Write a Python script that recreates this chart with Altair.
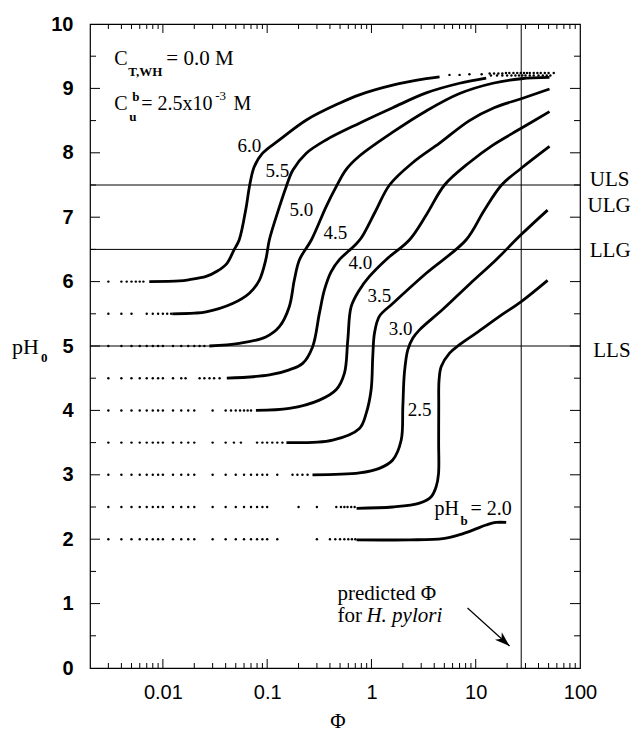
import altair as alt
import pandas as pd

# ---------------- data ----------------
# solid parts of the curves  (Phi, pH0), one pair of arrays per pHb
PHI_60 = [0.0074, 0.0144, 0.018, 0.026, 0.033, 0.041, 0.048, 0.054, 0.063, 0.0675, 0.075, 0.09, 0.131, 0.238, 0.493, 0.767, 1.6, 3.35, 4.5]
PH_60 = [6.0, 6.01, 6.03, 6.08, 6.16, 6.28, 6.49, 6.65, 7.16, 7.47, 7.78, 7.99, 8.2, 8.51, 8.77, 8.9, 9.05, 9.15, 9.18]

PHI_55 = [0.0123, 0.02, 0.026, 0.0466, 0.0675, 0.084, 0.097, 0.105, 0.131, 0.152, 0.176, 0.236, 0.367, 0.767, 1.6, 3.35, 7.0, 12.6]
PH_55 = [5.5, 5.51, 5.53, 5.66, 5.82, 6.02, 6.34, 6.65, 7.16, 7.47, 7.73, 7.99, 8.2, 8.46, 8.70, 8.93, 9.08, 9.16]

PHI_50 = [0.0279, 0.054, 0.097, 0.131, 0.163, 0.182, 0.204, 0.266, 0.367, 0.458, 0.571, 0.767, 1.6, 3.35, 7.0, 14.6, 27.3, 51.0]
PH_50 = [5.0, 5.04, 5.14, 5.30, 5.61, 6.02, 6.34, 6.65, 7.16, 7.47, 7.74, 7.95, 8.32, 8.65, 8.92, 9.08, 9.15, 9.17]

PHI_45 = [0.041, 0.105, 0.163, 0.219, 0.273, 0.317, 0.354, 0.41, 0.493, 0.69, 0.8, 1.1, 1.49, 2.5, 4.5, 8.7, 15.0, 27.3, 51.0]
PH_45 = [4.5, 4.55, 4.63, 4.73, 4.99, 5.51, 5.87, 6.15, 6.34, 6.56, 6.68, 7.1, 7.5, 7.85, 8.15, 8.5, 8.7, 8.84, 8.99]

PHI_40 = [0.078, 0.163, 0.317, 0.458, 0.551, 0.593, 0.639, 0.767, 0.957, 1.38, 2.32, 3.4, 5.02, 8.7, 14.6, 27.3, 51.0]
PH_40 = [4.0, 4.03, 4.16, 4.32, 4.58, 5.09, 5.61, 5.87, 6.08, 6.34, 6.65, 7.05, 7.5, 7.85, 8.12, 8.38, 8.64]

PHI_35 = [0.153, 0.425, 0.767, 0.889, 0.993, 1.03, 1.07, 1.19, 1.6, 3.35, 8.11, 12.0, 17.7, 27.3, 51.0]
PH_35 = [3.5, 3.54, 3.72, 3.95, 4.32, 4.84, 5.20, 5.46, 5.66, 6.13, 6.65, 7.1, 7.5, 7.76, 8.10]

PHI_30 = [0.272, 0.767, 1.19, 1.6, 1.93, 2.0, 2.07, 2.23, 2.49, 2.89, 4.84, 8.71, 15.7, 27.3, 48.9]
PH_30 = [3.0, 3.03, 3.10, 3.23, 3.54, 4.06, 4.58, 4.94, 5.12, 5.25, 5.57, 5.96, 6.34, 6.73, 7.11]

PHI_25 = [0.72, 1.6, 2.89, 3.74, 4.18, 4.40, 4.41, 4.42, 4.45, 4.67, 5.61, 7.0, 10.1, 16.9, 27.3, 48.9]
PH_25 = [2.48, 2.50, 2.56, 2.66, 2.82, 3.02, 3.5, 4.06, 4.47, 4.68, 4.89, 5.02, 5.20, 5.46, 5.69, 6.02]

PHI_20 = [0.72, 2.32, 4.84, 7.0, 9.38, 12.6, 15.7, 19.6]
PH_20 = [1.99, 1.99, 2.01, 2.07, 2.14, 2.22, 2.26, 2.26]

# dotted (isolated) points at low Phi, one row per pHb
DOT_60 = [0.003, 0.004, 0.0045, 0.005, 0.0055, 0.006, 0.0065]
DOT_55 = [0.003, 0.004, 0.005, 0.007, 0.008, 0.009, 0.010, 0.011, 0.012]
DOT_50 = [0.003, 0.004, 0.005, 0.006, 0.007, 0.008, 0.009, 0.010, 0.0125, 0.015, 0.0175, 0.020, 0.0225, 0.025]
DOT_45 = [0.003, 0.004, 0.005, 0.006, 0.007, 0.008, 0.009, 0.010, 0.0125, 0.015, 0.0165, 0.0225, 0.025, 0.028, 0.031, 0.035]
DOT_40 = [0.003, 0.004, 0.005, 0.006, 0.007, 0.008, 0.009, 0.010, 0.0125, 0.015, 0.0175, 0.020, 0.030, 0.040, 0.045, 0.050, 0.055, 0.060, 0.065, 0.070]
DOT_35 = [0.003, 0.004, 0.005, 0.006, 0.007, 0.008, 0.009, 0.010, 0.0125, 0.015, 0.0175, 0.020, 0.030, 0.040, 0.048, 0.056, 0.080, 0.090, 0.100, 0.112, 0.125, 0.140]
DOT_30 = [0.003, 0.004, 0.005, 0.006, 0.007, 0.008, 0.009, 0.010, 0.0125, 0.015, 0.0175, 0.020, 0.030, 0.040, 0.050, 0.060, 0.070, 0.080, 0.090, 0.100, 0.125, 0.175, 0.195, 0.218, 0.244]
DOT_25 = [0.003, 0.004, 0.005, 0.006, 0.007, 0.008, 0.009, 0.010, 0.0125, 0.015, 0.0175, 0.020, 0.030, 0.040, 0.050, 0.060, 0.070, 0.080, 0.090, 0.100, 0.200, 0.300, 0.460, 0.510, 0.550, 0.590, 0.640, 0.690]
DOT_20 = [0.003, 0.004, 0.005, 0.006, 0.007, 0.008, 0.009, 0.010, 0.0125, 0.015, 0.0175, 0.020, 0.030, 0.040, 0.050, 0.060, 0.070, 0.080, 0.090, 0.100, 0.125, 0.300, 0.400, 0.450, 0.500, 0.550, 0.600, 0.650, 0.700]

# dotted points near the plateau (pHb 6.0 and 5.5)
TOP_DOT_60_PHI = [5.6, 7.0, 8.7, 11.4, 13.6, 15.0, 16.5, 18.0, 19.5, 21.0, 23.0, 25.0, 27.0, 29.0, 31.0, 33.0, 36.0, 39.0, 42.0, 46.0, 50.0, 56.0]
TOP_DOT_60_PH = [9.21, 9.21, 9.22, 9.22, 9.23, 9.23, 9.23, 9.23, 9.24, 9.24, 9.24, 9.24, 9.24, 9.24, 9.24, 9.24, 9.24, 9.24, 9.24, 9.24, 9.24, 9.24]
TOP_DOT_55_PHI = [14.0, 16.0, 18.0, 20.0, 22.0, 24.0, 26.0, 28.0, 30.0, 33.0, 36.0, 40.0, 44.0, 48.0, 52.0]
TOP_DOT_55_PH = [9.2, 9.2, 9.2, 9.2, 9.2, 9.2, 9.2, 9.2, 9.2, 9.2, 9.2, 9.2, 9.2, 9.2, 9.2]

# reference limits and predicted Phi
H_LINES = [7.5, 6.5, 5.0]
V_LINE = [27.3]

# curve labels
CURVE_LABELS = ["6.0", "5.5", "5.0", "4.5", "4.0", "3.5", "3.0", "2.5"]
CURVE_LABEL_PHI = [0.0675, 0.125, 0.213, 0.452, 0.784, 1.19, 1.90, 2.89]
CURVE_LABEL_PH = [8.11, 7.72, 7.11, 6.755, 6.29, 5.78, 5.26, 4.0]

# limit labels on the right
LIMIT_LABELS = ["ULS", "ULG", "LLG", "LLS"]
LIMIT_LABEL_PHI = [124.0, 118.0, 124.0, 134.0]
LIMIT_LABEL_PH = [7.58, 7.17, 6.475, 4.915]

# axes ticks
X_LABEL_VALUES = [0.01, 0.1, 1, 10, 100]
Y_LABEL_VALUES = [0, 1, 2, 3, 4, 5, 6, 7, 8, 9, 10]
X_MAJOR_TICKS = [0.01, 0.1, 1, 10]
X_MINOR_TICKS = [m * 10.0 ** e for e in range(-3, 2) for m in range(2, 10) if 0.0021 < m * 10.0 ** e < 99]
Y_MAJOR_TICKS = [1, 2, 3, 4, 5, 6, 7, 8, 9]
Y_MINOR_TICKS = [0.5, 1.5, 2.5, 3.5, 4.5, 5.5, 6.5, 7.5, 8.5, 9.5]

# ---------------- build ----------------
W, H = 490, 644
xs = alt.Scale(type="log", domain=[0.002, 100], nice=False)
ys = alt.Scale(domain=[0, 10], nice=False, zero=False)
SERIF = "Liberation Serif"
SANS = "Liberation Sans"

x_axis = alt.Axis(values=X_LABEL_VALUES, format="~g", labelFont=SANS, labelFontSize=20,
                  labelColor="black", labelPadding=14, ticks=False, tickSize=0, domain=False,
                  grid=False, title=None, labelFlush=False, labelOverlap=False)
y_axis = alt.Axis(values=Y_LABEL_VALUES, format="d", labelFont=SANS, labelFontSize=20,
                  labelFontWeight="bold", labelColor="black", labelPadding=17, ticks=False,
                  tickSize=0, domain=False, grid=False, title=None, labelFlush=False,
                  labelOverlap=False)

def X(f):
    return alt.X(f, scale=xs, axis=x_axis)

def Y(f):
    return alt.Y(f, scale=ys, axis=y_axis)

curves = [(6.0, PHI_60, PH_60), (5.5, PHI_55, PH_55), (5.0, PHI_50, PH_50), (4.5, PHI_45, PH_45),
          (4.0, PHI_40, PH_40), (3.5, PHI_35, PH_35), (3.0, PHI_30, PH_30), (2.5, PHI_25, PH_25),
          (2.0, PHI_20, PH_20)]
rows = []
for phb, px, py in curves:
    for i, (a, b) in enumerate(zip(px, py)):
        rows.append({"phb": phb, "phi": a, "ph": b, "i": i})
lines_df = pd.DataFrame(rows)

dot_rows = []
for phb, d in [(6.0, DOT_60), (5.5, DOT_55), (5.0, DOT_50), (4.5, DOT_45), (4.0, DOT_40),
               (3.5, DOT_35), (3.0, DOT_30), (2.5, DOT_25), (2.0, DOT_20)]:
    for a in d:
        dot_rows.append({"phi": a, "ph": phb})
for a, b in zip(TOP_DOT_60_PHI, TOP_DOT_60_PH):
    dot_rows.append({"phi": a, "ph": b})
for a, b in zip(TOP_DOT_55_PHI, TOP_DOT_55_PH):
    dot_rows.append({"phi": a, "ph": b})
dots_df = pd.DataFrame(dot_rows)

lines = alt.Chart(lines_df).mark_line(color="black", strokeWidth=2.8, interpolate="catmull-rom").encode(
    x=X("phi:Q"), y=Y("ph:Q"), detail="phb:N", order="i:Q")

dots = alt.Chart(dots_df).mark_circle(color="black", size=6, opacity=1).encode(
    x=X("phi:Q"), y=Y("ph:Q"))

hlines = alt.Chart(pd.DataFrame({"v": H_LINES})).mark_rule(color="black", strokeWidth=1).encode(
    y=Y("v:Q"), x=alt.value(0), x2=alt.value(W))
vline = alt.Chart(pd.DataFrame({"v": V_LINE})).mark_rule(color="black", strokeWidth=1).encode(
    x=X("v:Q"), y=alt.value(0), y2=alt.value(H))

def yticks(vals, length):
    d = pd.DataFrame({"v": vals})
    left = alt.Chart(d).mark_rule(color="black", strokeWidth=1).encode(
        y=Y("v:Q"), x=alt.value(0), x2=alt.value(length))
    right = alt.Chart(d).mark_rule(color="black", strokeWidth=1).encode(
        y=Y("v:Q"), x=alt.value(W - length), x2=alt.value(W))
    return [left, right]

def xticks(vals, length):
    d = pd.DataFrame({"v": vals})
    bottom = alt.Chart(d).mark_rule(color="black", strokeWidth=1).encode(
        x=X("v:Q"), y=alt.value(H - length), y2=alt.value(H))
    top = alt.Chart(d).mark_rule(color="black", strokeWidth=1).encode(
        x=X("v:Q"), y=alt.value(0), y2=alt.value(length))
    return [bottom, top]

def text_layer(df, **kw):
    return alt.Chart(df).mark_text(color="black", **kw).encode(
        x=X("phi:Q"), y=Y("ph:Q"), text="t:N")

curve_lbl = text_layer(pd.DataFrame({"phi": CURVE_LABEL_PHI, "ph": CURVE_LABEL_PH, "t": CURVE_LABELS}),
                       font=SERIF, fontSize=19, align="center", baseline="middle")
limit_lbl = text_layer(pd.DataFrame({"phi": LIMIT_LABEL_PHI, "ph": LIMIT_LABEL_PH, "t": LIMIT_LABELS}),
                       font=SERIF, fontSize=21, align="left", baseline="middle")

def one(t, phi, ph):
    return pd.DataFrame({"t": [t], "phi": [phi], "ph": [ph]})

big = dict(font=SERIF, fontSize=20, align="left", baseline="alphabetic")
small_b = dict(font=SERIF, fontSize=13, fontWeight="bold", align="left", baseline="alphabetic")
small = dict(font=SERIF, fontSize=13, align="left", baseline="alphabetic")

notes = [
    text_layer(one("C", 0.00342, 9.363), **big),
    text_layer(one("T,WH", 0.00466, 9.193), **small_b),
    text_layer(one("= 0.0 M", 0.01078, 9.363), font=SERIF, fontSize=21, align="left", baseline="alphabetic"),
    text_layer(one("C", 0.00342, 8.665), **big),
    text_layer(one("u", 0.00476, 8.494), **small_b),
    text_layer(one("b", 0.00509, 8.80), **small_b),
    text_layer(one("= 2.5x10", 0.00621, 8.665), **big),
    text_layer(one("-3", 0.0318, 8.82), **small),
    text_layer(one("M", 0.0475, 8.665), **big),
    text_layer(one("pH", 4.03, 2.376), font=SERIF, fontSize=20, align="left", baseline="alphabetic"),
    text_layer(one("b", 7.15, 2.22), **small_b),
    text_layer(one("= 2.0", 8.91, 2.376), font=SERIF, fontSize=20, align="left", baseline="alphabetic"),
    text_layer(one("predicted Φ", 0.472, 1.056), font=SERIF, fontSize=21, align="left", baseline="alphabetic"),
    text_layer(one("for", 0.472, 0.714), font=SERIF, fontSize=21, align="left", baseline="alphabetic"),
    text_layer(one("H. pylori", 0.895, 0.714), font=SERIF, fontSize=21, fontStyle="italic",
               align="left", baseline="alphabetic"),
]

# arrow toward the predicted Phi line
arrow_df = pd.DataFrame({"phi": [8.34], "ph": [0.932], "phi2": [21.1], "ph2": [0.342]})
arrow_line = alt.Chart(arrow_df).mark_rule(color="black", strokeWidth=1.2).encode(
    x=X("phi:Q"), y=Y("ph:Q"), x2="phi2:Q", y2="ph2:Q")
arrow_head = alt.Chart(arrow_df).mark_point(
    shape="M0,0 L-1,-0.34 L-0.72,0 L-1,0.34 Z", filled=True, color="black", opacity=1,
    size=900, angle=42, strokeWidth=0).encode(x=X("phi2:Q"), y=Y("ph2:Q"))

# axis titles
blank = pd.DataFrame({"t": [""]})
ytitle = alt.Chart(blank).mark_text(text="pH", font=SERIF, fontSize=22, align="left",
                                    baseline="alphabetic", color="black").encode(
    x=alt.value(-78), y=alt.value(330))
ytitle_sub = alt.Chart(blank).mark_text(text="0", font=SERIF, fontSize=13, fontWeight="bold",
                                        align="left", baseline="alphabetic", color="black").encode(
    x=alt.value(-49), y=alt.value(338))
xtitle = alt.Chart(blank).mark_text(text="Φ", font=SERIF, fontSize=21, align="center",
                                    baseline="alphabetic", color="black").encode(
    x=alt.value(248), y=alt.value(704))

layers = [lines, dots, hlines, vline] + yticks(Y_MAJOR_TICKS, 10) + yticks(Y_MINOR_TICKS, 6) \
    + xticks(X_MAJOR_TICKS, 9) + xticks(X_MINOR_TICKS, 5) \
    + [curve_lbl, limit_lbl] + notes + [arrow_line, arrow_head, ytitle, ytitle_sub, xtitle]

chart = alt.layer(*layers).properties(
    width=W, height=H,
    autosize=alt.AutoSizeParams(type="none"),
    padding={"left": 82, "top": 16, "right": 53, "bottom": 66},
    background="white",
).configure_view(stroke="black", strokeWidth=1.2)

chart.save("out.html", embed_options={"renderer": "svg", "actions": False})
